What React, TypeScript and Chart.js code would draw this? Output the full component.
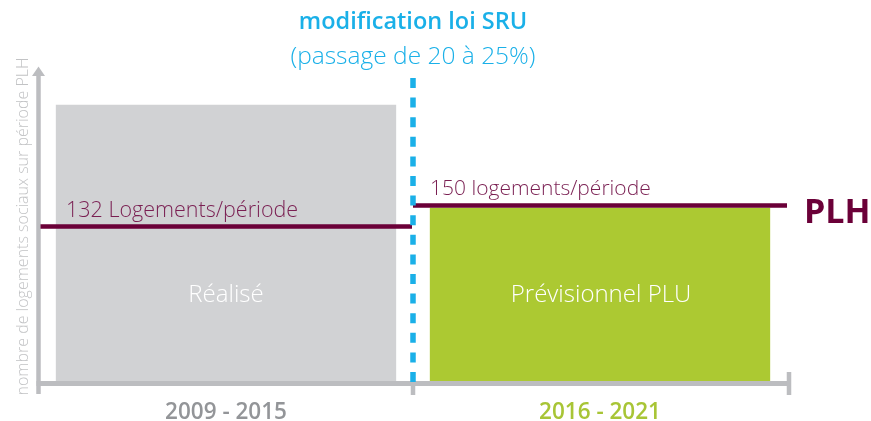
import React, { useEffect, useRef } from "react";
import { Chart, registerables } from "chart.js";

Chart.register(...registerables);

// ---- data ----
const categories = ["2009 - 2015", "2016 - 2021"];
const barLabels = ["Réalisé", "Prévisionnel PLU"];
const barValues = [236, 148];
const plhValues = [132, 150];
const plhLabels = ["132 Logements/période", "150 logements/période"];
const yMax = 270;
const titleLine1 = "modification loi SRU";
const titleLine2 = "(passage de 20 à 25%)";
const yAxisTitle = "nombre de logements sociaux sur période PLH";
const plhTag = "PLH";

// ---- styles ----
const FONT = '"Open Sans", "Noto Sans", sans-serif';
const barColors = ["#d1d2d4", "#acc932"];
const categoryColors = ["#939598", "#a8c536"];
const axisColor = "#bcbdc0";
const plhColor = "#6b0038";
const plhTextColor = "#7a1f52";
const sruColor = "#1ab0e8";

const overlayPlugin = {
  id: "overlay",
  afterDatasetsDraw(chart: any) {
    const { ctx, chartArea: ca, scales } = chart;
    const xs = scales.x;
    const ys = scales.y;
    const base = ys.getPixelForValue(0);
    const c0 = xs.getPixelForValue(0);
    const c1 = xs.getPixelForValue(1);
    const mid = (c0 + c1) / 2;
    const leftX = ca.left - 0.5;

    ctx.save();
    // x axis
    ctx.strokeStyle = axisColor;
    ctx.fillStyle = axisColor;
    ctx.lineWidth = 5;
    ctx.beginPath();
    ctx.moveTo(leftX - 2, base + 2.5);
    ctx.lineTo(ca.right + 3, base + 2.5);
    ctx.stroke();
    // y axis
    ctx.lineWidth = 4.5;
    ctx.beginPath();
    ctx.moveTo(leftX, ca.top + 9);
    ctx.lineTo(leftX, base + 13);
    ctx.stroke();
    // arrow head
    ctx.beginPath();
    ctx.moveTo(leftX, ca.top + 1.5);
    ctx.lineTo(leftX - 6.5, ca.top + 11);
    ctx.lineTo(leftX + 6.5, ca.top + 11);
    ctx.closePath();
    ctx.fill();
    // ticks
    ctx.lineWidth = 4.5;
    ctx.beginPath();
    ctx.moveTo(mid, base + 2);
    ctx.lineTo(mid, base + 14);
    ctx.moveTo(ca.right + 2, base - 9);
    ctx.lineTo(ca.right + 2, base + 14);
    ctx.stroke();

    // PLH lines
    ctx.strokeStyle = plhColor;
    ctx.lineWidth = 4.5;
    const yL = ys.getPixelForValue(plhValues[0]);
    const yR = ys.getPixelForValue(plhValues[1]);
    ctx.beginPath();
    ctx.moveTo(leftX + 2, yL);
    ctx.lineTo(mid - 1, yL);
    ctx.moveTo(mid, yR);
    ctx.lineTo(ca.right, yR);
    ctx.stroke();

    // PLH labels
    ctx.fillStyle = plhTextColor;
    ctx.textAlign = "left";
    ctx.textBaseline = "alphabetic";
    ctx.font = `300 21.5px ${FONT}`;
    ctx.fillText(plhLabels[0], 66, yL - 10);
    ctx.font = `300 21px ${FONT}`;
    ctx.fillText(plhLabels[1], mid + 17, yR - 10);
    ctx.fillStyle = plhColor;
    ctx.font = `bold 34px ${FONT}`;
    ctx.fillText(plhTag, ca.right + 17, yR + 18);

    // blue dashed line
    ctx.strokeStyle = sruColor;
    ctx.lineWidth = 5.5;
    ctx.setLineDash([10, 9.6]);
    ctx.beginPath();
    ctx.moveTo(mid, 78);
    ctx.lineTo(mid, base + 3);
    ctx.stroke();
    ctx.setLineDash([]);

    // title
    ctx.fillStyle = sruColor;
    ctx.textAlign = "center";
    ctx.font = `600 23.5px ${FONT}`;
    ctx.fillText(titleLine1, mid, 29);
    ctx.font = `300 24.5px ${FONT}`;
    ctx.fillText(titleLine2, mid, 64);

    // bar inner labels
    ctx.fillStyle = "#ffffff";
    ctx.font = `300 24px ${FONT}`;
    ctx.fillText(barLabels[0], c0, 302);
    ctx.fillText(barLabels[1], c1 + 1, 302);

    // category labels
    ctx.font = `600 22.5px ${FONT}`;
    ctx.fillStyle = categoryColors[0];
    ctx.fillText(categories[0], c0, 419);
    ctx.fillStyle = categoryColors[1];
    ctx.fillText(categories[1], c1, 419);

    // y axis title
    ctx.save();
    ctx.translate(23, (60 + 393) / 2);
    ctx.rotate(-Math.PI / 2);
    ctx.fillStyle = "#c2c3c5";
    ctx.font = `300 16px ${FONT}`;
    ctx.textBaseline = "middle";
    ctx.fillText(yAxisTitle, 0, 0);
    ctx.restore();

    ctx.restore();
  },
};

export default function App() {
  const canvasRef = useRef<HTMLCanvasElement | null>(null);

  useEffect(() => {
    const canvas = canvasRef.current;
    if (!canvas) return;
    const chart = new Chart(canvas, {
      type: "bar",
      data: {
        labels: categories,
        datasets: [
          {
            data: barValues,
            backgroundColor: barColors,
            barPercentage: 0.91,
            categoryPercentage: 1,
            borderWidth: 0,
          },
        ],
      },
      options: {
        responsive: false,
        animation: false,
        layout: { padding: { left: 39, right: 84, top: 65, bottom: 40 } },
        scales: {
          x: { display: false },
          y: { display: false, min: 0, max: yMax },
        },
        plugins: {
          legend: { display: false },
          tooltip: { enabled: false },
        },
      },
      plugins: [overlayPlugin],
    });
    return () => chart.destroy();
  }, []);

  return (
    <div style={{ position: "fixed", left: 0, top: 0, width: 871, height: 421, background: "#fff" }}>
      <canvas ref={canvasRef} width={871} height={421} style={{ display: "block" }} />
    </div>
  );
}
